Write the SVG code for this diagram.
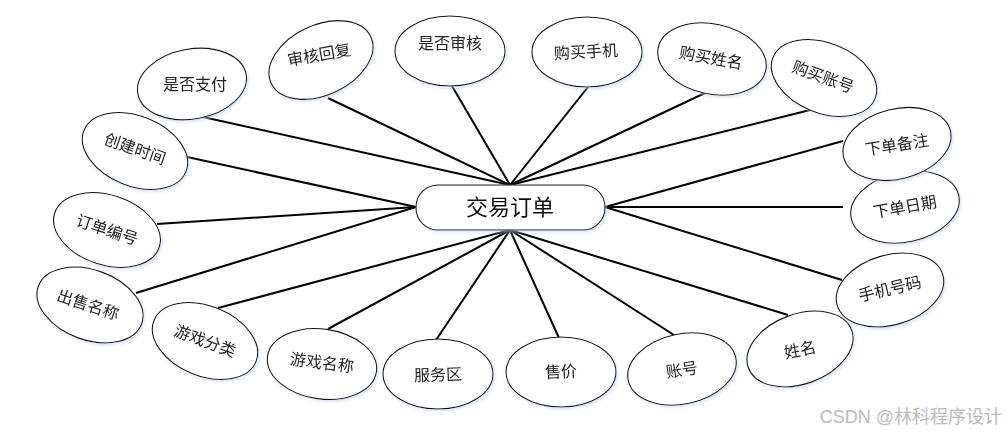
<svg xmlns="http://www.w3.org/2000/svg" width="1007" height="435" viewBox="0 0 1007 435">
<defs>
<filter id="sh" x="-20%" y="-20%" width="140%" height="140%">
<feDropShadow dx="1.5" dy="2" stdDeviation="1.5" flood-color="#c6d6ee" flood-opacity="0.6"/>
</filter>
</defs>
<style>
.e{fill:#fff;stroke:#111;stroke-width:1.1}
.n{filter:url(#sh)}
.t{font-family:"Liberation Serif","Noto Sans CJK SC",serif;font-size:16px;fill:#222;text-anchor:middle}
.c line{stroke:#000;stroke-width:2}
.m{font-family:"Liberation Serif","Noto Sans CJK SC",serif;font-size:22px;fill:#111;text-anchor:middle}
.w{font-family:"Liberation Sans","Noto Sans CJK SC",sans-serif;font-size:18px;fill:#bbb;text-anchor:end}
</style>
<rect width="1007" height="435" fill="#fff"/>
<g id="connectors" class="c">
<line x1="203" y1="117" x2="510" y2="185"/>
<line x1="328" y1="98" x2="510" y2="185"/>
<line x1="452" y1="86" x2="510" y2="185"/>
<line x1="588" y1="87" x2="510" y2="185"/>
<line x1="705" y1="93" x2="510" y2="185"/>
<line x1="810" y1="110" x2="510" y2="185"/>
<line x1="178" y1="155" x2="416" y2="207"/>
<line x1="157" y1="224" x2="416" y2="207"/>
<line x1="136" y1="293" x2="416" y2="207"/>
<line x1="218" y1="308" x2="510" y2="230"/>
<line x1="328" y1="329" x2="510" y2="230"/>
<line x1="436" y1="340" x2="510" y2="230"/>
<line x1="559" y1="338" x2="510" y2="230"/>
<line x1="674" y1="335" x2="510" y2="230"/>
<line x1="788" y1="315" x2="510" y2="230"/>
<line x1="842" y1="280" x2="605" y2="207"/>
<line x1="843" y1="207" x2="605" y2="207"/>
<line x1="843" y1="141" x2="605" y2="207"/>
</g>
<g id="n-center" class="n">
<rect x="416" y="185" width="189" height="45" rx="22" class="e"/>
<text x="510" y="215" class="m">交易订单</text>
</g>
<g id="n1" class="n"><ellipse class="e" transform="translate(192,84) rotate(-10)" rx="55" ry="35"/><text class="t" transform="translate(195,84)" y="5.5">是否支付</text></g>
<g id="n2" class="n"><ellipse class="e" transform="translate(321,60) rotate(-25)" rx="55" ry="35"/><text class="t" transform="translate(319,55) rotate(-10)" y="5.5">审核回复</text></g>
<g id="n3" class="n"><ellipse class="e" transform="translate(450,51)" rx="55" ry="35"/><text class="t" transform="translate(450,43)" y="5.5">是否审核</text></g>
<g id="n4" class="n"><ellipse class="e" transform="translate(587,52)" rx="55" ry="35"/><text class="t" transform="translate(586,52) rotate(-3)" y="5.5">购买手机</text></g>
<g id="n5" class="n"><ellipse class="e" transform="translate(712,59) rotate(12)" rx="55" ry="35"/><text class="t" transform="translate(711,58) rotate(10)" y="5.5">购买姓名</text></g>
<g id="n6" class="n"><ellipse class="e" transform="translate(824,78) rotate(22)" rx="55" ry="35"/><text class="t" transform="translate(823,77) rotate(20)" y="5.5">购买账号</text></g>
<g id="n7" class="n"><ellipse class="e" transform="translate(135,151) rotate(22)" rx="55" ry="35"/><text class="t" transform="translate(135,149) rotate(19)" y="5.5">创建时间</text></g>
<g id="n8" class="n"><ellipse class="e" transform="translate(107,230) rotate(18)" rx="55" ry="35"/><text class="t" transform="translate(107,230) rotate(18)" y="5.5">订单编号</text></g>
<g id="n9" class="n"><ellipse class="e" transform="translate(90,305) rotate(20)" rx="55" ry="35"/><text class="t" transform="translate(88,305) rotate(18)" y="5.5">出售名称</text></g>
<g id="n10" class="n"><ellipse class="e" transform="translate(205,341) rotate(22)" rx="55" ry="35"/><text class="t" transform="translate(205,341) rotate(20)" y="5.5">游戏分类</text></g>
<g id="n11" class="n"><ellipse class="e" transform="translate(322,364) rotate(8)" rx="55" ry="35"/><text class="t" transform="translate(322,363) rotate(7)" y="5.5">游戏名称</text></g>
<g id="n12" class="n"><ellipse class="e" transform="translate(438,374)" rx="55" ry="35"/><text class="t" transform="translate(438,375) rotate(-2)" y="5.5">服务区</text></g>
<g id="n13" class="n"><ellipse class="e" transform="translate(561,372)" rx="55" ry="35"/><text class="t" transform="translate(561,372) rotate(-3)" y="5.5">售价</text></g>
<g id="n14" class="n"><ellipse class="e" transform="translate(682,369) rotate(-12)" rx="55" ry="35"/><text class="t" transform="translate(682,370) rotate(-9)" y="5.5">账号</text></g>
<g id="n15" class="n"><ellipse class="e" transform="translate(800,349) rotate(-20)" rx="55" ry="35"/><text class="t" transform="translate(800,350) rotate(-12)" y="5.5">姓名</text></g>
<g id="n16" class="n"><ellipse class="e" transform="translate(890,290) rotate(-16)" rx="55" ry="35"/><text class="t" transform="translate(890,289) rotate(-13)" y="5.5">手机号码</text></g>
<g id="n17" class="n"><ellipse class="e" transform="translate(905,207) rotate(-12)" rx="55" ry="35"/><text class="t" transform="translate(905,207) rotate(-10)" y="5.5">下单日期</text></g>
<g id="n18" class="n"><ellipse class="e" transform="translate(897,144) rotate(-14)" rx="55" ry="35"/><text class="t" transform="translate(897,145) rotate(-9)" y="5.5">下单备注</text></g>
<text x="1002" y="423" class="w">CSDN @林科程序设计</text>
</svg>
